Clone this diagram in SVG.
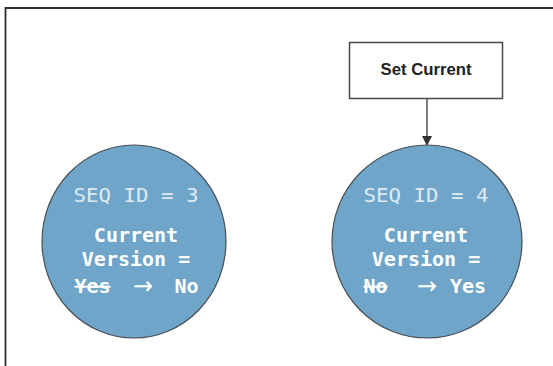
<svg xmlns="http://www.w3.org/2000/svg" width="553" height="366" viewBox="0 0 553 366">
<style>
.frame{fill:none;stroke:#2e2e2e;stroke-width:1.8}
.box{fill:#ffffff;stroke:#4a4a4a;stroke-width:1.5}
.lbl{font-family:"Liberation Sans",Arial,sans-serif;font-weight:bold;font-size:16.5px;fill:#222;text-anchor:middle}
.node{fill:#6fa5c9;stroke:#4a4f55;stroke-width:1.2}
.seq{font-family:"DejaVu Sans Mono",monospace;font-size:19px;fill:#dfeaf2;text-anchor:middle}
.t{font-family:"DejaVu Sans Mono",monospace;font-weight:bold;font-size:20px;fill:#ffffff;text-anchor:middle}
.ar{font-family:"DejaVu Sans",sans-serif;font-size:24px;fill:#ffffff;text-anchor:middle}
.conn{stroke:#3c3c3c;stroke-width:1.3;fill:none}
</style>
<defs>
<marker id="ah" markerWidth="10" markerHeight="10" refX="9" refY="5" orient="auto" markerUnits="userSpaceOnUse">
<path d="M0,0 L10,5 L0,10 Z" fill="#333"/>
</marker>
</defs>
<rect width="553" height="366" fill="#ffffff"/>
<path class="frame" d="M5.5 366 V8 H553"/>
<g id="set-current">
<rect class="box" x="349.5" y="42.5" width="153" height="56"/>
<text class="lbl" x="426" y="75" textLength="91" lengthAdjust="spacingAndGlyphs">Set Current</text>
</g>
<g id="connectors">
<line class="conn" x1="427" y1="98.5" x2="427" y2="145" marker-end="url(#ah)"/>
</g>
<g id="seq3">
<ellipse class="node" cx="134" cy="241.5" rx="92" ry="96.5"/>
<text class="seq" x="136" y="202" textLength="125" lengthAdjust="spacingAndGlyphs">SEQ ID = 3</text>
<text class="t" x="136" y="242">Current</text>
<text class="t" x="136" y="266">Version =</text>
<text class="t" x="92.5" y="293" text-decoration="line-through">Yes</text>
<text class="ar" x="143" y="294" textLength="20" lengthAdjust="spacingAndGlyphs">→</text>
<text class="t" x="186.5" y="293">No</text>
</g>
<g id="seq4">
<ellipse class="node" cx="427" cy="241.5" rx="95" ry="96.5"/>
<text class="seq" x="426" y="202" textLength="125" lengthAdjust="spacingAndGlyphs">SEQ ID = 4</text>
<text class="t" x="426" y="242">Current</text>
<text class="t" x="426" y="266">Version =</text>
<text class="t" x="375.5" y="293" text-decoration="line-through">No</text>
<text class="ar" x="427" y="294" textLength="20" lengthAdjust="spacingAndGlyphs">→</text>
<text class="t" x="468" y="293">Yes</text>
</g>
</svg>
